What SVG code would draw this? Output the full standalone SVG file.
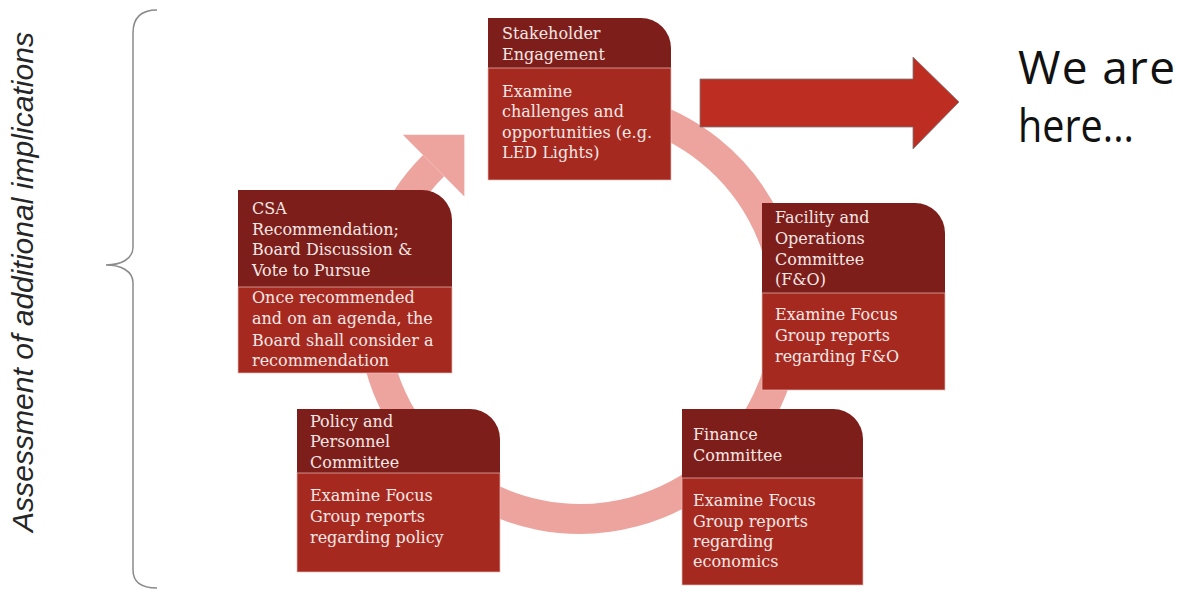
<svg xmlns="http://www.w3.org/2000/svg" width="1185" height="598" viewBox="0 0 1185 598">
<style>
.hd{fill:#7E1E1A}
.bd{fill:#A62920;stroke:#E8BDB8;stroke-opacity:0.7;stroke-width:1}
.t{font-family:"DejaVu Serif","Liberation Serif",serif;font-size:16px;fill:#F4E7E5}
.ring{fill:none;stroke:#EDA49E;stroke-width:30}
.brace{fill:none;stroke:#8A8A8A;stroke-width:1.5}
.hw{font-family:"Open Sans","Liberation Sans",sans-serif;font-size:46px;fill:#111111}
</style>
<rect width="1185" height="598" fill="#FFFFFF"/>
<text x="33" y="282" transform="rotate(-90 33 282)" text-anchor="middle" font-family="Liberation Sans, Arial, sans-serif" font-style="italic" font-size="29" fill="#262626" textLength="500" lengthAdjust="spacingAndGlyphs">Assessment of additional implications</text>
<path class="brace" d="M157,10 C141,10 133,18 133,33 L133,247 C133,259 121,265 106,265 C121,265 133,271 133,283 L133,570 C133,582 141,588 157,588"/>
<g id="connectors">
<path class="ring" d="M633.6,112 A207,207 0 1 1 433.6,165.6"/>
<polygon points="464.4,134.8 402.8,134.8 464.4,196.4" fill="#EDA49E"/>
<polygon id="here-arrow" points="700,79 913,79 913,57 959,102 913,149 913,127 700,127" fill="#BD2D22" stroke="#7A7A7A" stroke-width="0.8"/>
</g>
<g id="node-stakeholder">
<path class="hd" d="M488,18 H641 A30,30 0 0 1 671,48 V68 H488 Z"/>
<rect class="bd" x="488" y="68" width="183" height="112"/>
<text class="t" x="502" y="39">Stakeholder</text>
<text class="t" x="502" y="60">Engagement</text>
<text class="t" x="502" y="97">Examine</text>
<text class="t" x="502" y="117">challenges and</text>
<text class="t" x="502" y="138">opportunities (e.g.</text>
<text class="t" x="502" y="158">LED Lights)</text>
</g>
<g id="node-csa">
<path class="hd" d="M238,190 H422 A30,30 0 0 1 452,220 V287 H238 Z"/>
<rect class="bd" x="238" y="287" width="214" height="86"/>
<text class="t" x="252" y="214">CSA</text>
<text class="t" x="252" y="235">Recommendation;</text>
<text class="t" x="252" y="255">Board Discussion &amp;</text>
<text class="t" x="252" y="276">Vote to Pursue</text>
<text class="t" x="252" y="303">Once recommended</text>
<text class="t" x="252" y="324">and on an agenda, the</text>
<text class="t" x="252" y="346">Board shall consider a</text>
<text class="t" x="252" y="366">recommendation</text>
</g>
<g id="node-fo">
<path class="hd" d="M762,203 H915 A30,30 0 0 1 945,233 V293 H762 Z"/>
<rect class="bd" x="762" y="293" width="183" height="97"/>
<text class="t" x="775" y="223">Facility and</text>
<text class="t" x="775" y="244">Operations</text>
<text class="t" x="775" y="265">Committee</text>
<text class="t" x="775" y="285">(F&amp;O)</text>
<text class="t" x="775" y="320">Examine Focus</text>
<text class="t" x="775" y="341">Group reports</text>
<text class="t" x="775" y="362">regarding F&amp;O</text>
</g>
<g id="node-policy">
<path class="hd" d="M297,409 H470 A30,30 0 0 1 500,439 V473 H297 Z"/>
<rect class="bd" x="297" y="473" width="203" height="99"/>
<text class="t" x="310" y="427">Policy and</text>
<text class="t" x="310" y="447">Personnel</text>
<text class="t" x="310" y="468">Committee</text>
<text class="t" x="310" y="501">Examine Focus</text>
<text class="t" x="310" y="522">Group reports</text>
<text class="t" x="310" y="543">regarding policy</text>
</g>
<g id="node-finance">
<path class="hd" d="M682,409 H833 A30,30 0 0 1 863,439 V478 H682 Z"/>
<rect class="bd" x="682" y="478" width="181" height="107"/>
<text class="t" x="693" y="440">Finance</text>
<text class="t" x="693" y="461">Committee</text>
<text class="t" x="693" y="506">Examine Focus</text>
<text class="t" x="693" y="527">Group reports</text>
<text class="t" x="693" y="547">regarding</text>
<text class="t" x="693" y="567">economics</text>
</g>
<g id="label-here">
<text class="hw" x="1018" y="84" textLength="157" lengthAdjust="spacing">We are</text>
<text class="hw" x="1018" y="142" textLength="116" lengthAdjust="spacingAndGlyphs">here...</text>
</g>
</svg>
